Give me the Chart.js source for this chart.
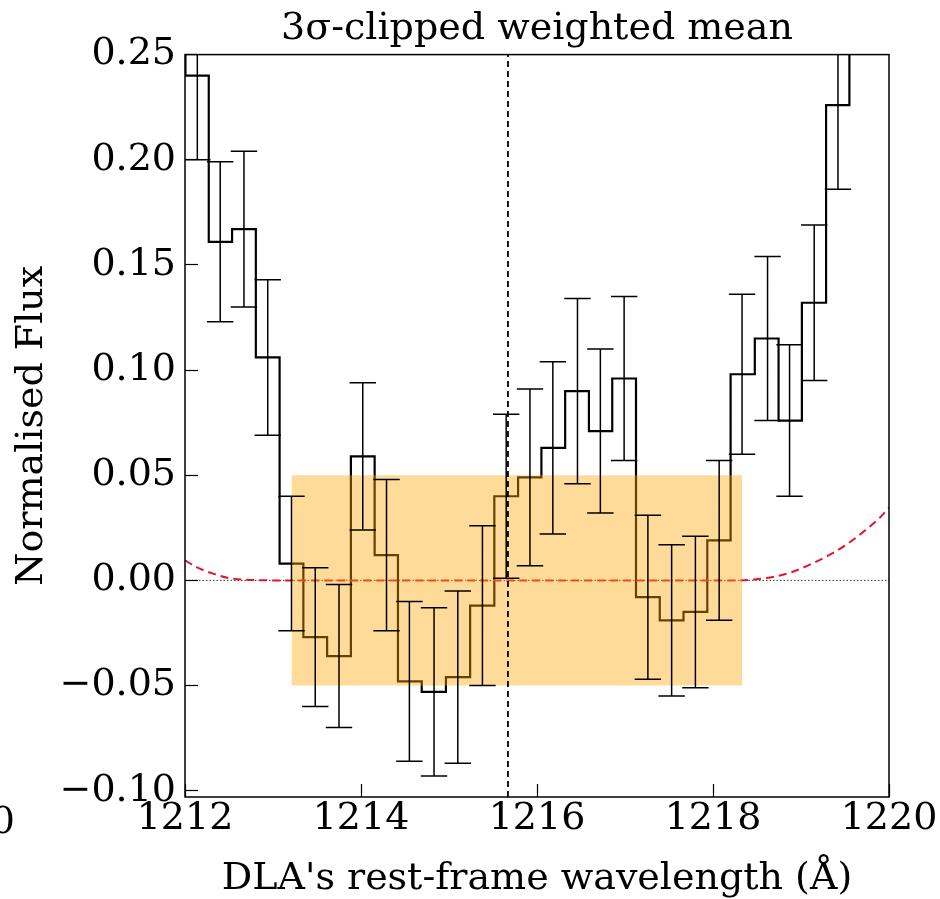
<!DOCTYPE html>
<html>
<head>
<meta charset="utf-8">
<script src="https://cdn.jsdelivr.net/npm/chart.js@4.4.1/dist/chart.umd.min.js"></script>
<style>
  html, body { margin: 0; padding: 0; background: #fff; }
</style>
</head>
<body>
<canvas id="chart" width="940" height="899"></canvas>
<script>
// Binned spectrum: bin centres (Angstrom), flux and 1-sigma error
const binWave = [1211.87, 1212.14, 1212.40, 1212.67, 1212.94, 1213.21, 1213.48, 1213.75, 1214.02, 1214.29,
                 1214.55, 1214.83, 1215.10, 1215.38, 1215.65, 1215.92, 1216.18, 1216.46, 1216.72, 1216.99,
                 1217.26, 1217.53, 1217.80, 1218.07, 1218.33, 1218.62, 1218.87, 1219.15, 1219.42, 1219.68];
const binFlux = [0.300, 0.240, 0.161, 0.167, 0.106, 0.008, -0.027, -0.036, 0.059, 0.012,
                 -0.048, -0.053, -0.046, -0.012, 0.040, 0.049, 0.063, 0.090, 0.071, 0.096,
                 -0.008, -0.019, -0.015, 0.019, 0.098, 0.115, 0.076, 0.132, 0.226, 0.300];
const binErr = [0.040, 0.040, 0.038, 0.037, 0.037, 0.032, 0.033, 0.034, 0.035, 0.036,
                0.038, 0.040, 0.041, 0.038, 0.039, 0.042, 0.041, 0.044, 0.039, 0.039,
                0.039, 0.036, 0.036, 0.038, 0.038, 0.039, 0.036, 0.037, 0.040, 0.040];

// DLA model profile (red dashed)
const modelWave = [1212.00, 1212.13, 1212.32, 1212.51, 1212.75, 1213.00, 1215.67, 1218.30,
                   1218.50, 1218.70, 1218.90, 1219.10, 1219.35, 1219.55, 1219.73, 1219.90, 1220.00];
const modelFlux = [0.0095, 0.0063, 0.0032, 0.0010, 0.0002, 0.0000, 0.0000, 0.0000,
                   0.0006, 0.0018, 0.0040, 0.0075, 0.0127, 0.0180, 0.0238, 0.0300, 0.0346];

// Window used for the clipped mean
const boxWave = [1213.21, 1218.33];
const boxFlux = [-0.05, 0.05];

const lyaWave = 1215.67;
const xRange = [1212, 1220];
const yRange = [-0.103, 0.25];
const capHalf = 0.15; // errorbar cap half-width in Angstrom

const serif = "'DejaVu Serif', 'Liberation Serif', serif";
const fontSize = 38;

// Errorbars as one broken line: stem, top cap, bottom cap
const errPoints = [];
binWave.forEach((x, i) => {
  const lo = binFlux[i] - binErr[i];
  const hi = binFlux[i] + binErr[i];
  errPoints.push({ x: x, y: lo }, { x: x, y: hi }, { x: x, y: null });
  errPoints.push({ x: x - capHalf, y: hi }, { x: x + capHalf, y: hi }, { x: x, y: null });
  errPoints.push({ x: x - capHalf, y: lo }, { x: x + capHalf, y: lo }, { x: x, y: null });
});

// Frame round the plot area + cut-off label of the neighbouring panel
const framePlugin = {
  id: 'frame',
  afterDraw(chart) {
    const { ctx, chartArea } = chart;
    ctx.save();
    ctx.strokeStyle = '#000';
    ctx.lineWidth = 1.5;
    ctx.strokeRect(chartArea.left, chartArea.top, chartArea.right - chartArea.left, chartArea.bottom - chartArea.top);
    ctx.fillStyle = '#000';
    ctx.font = fontSize + 'px ' + serif;
    ctx.textAlign = 'right';
    ctx.textBaseline = 'alphabetic';
    ctx.fillText('1220', 15, 833);
    ctx.restore();
  }
};

const ctx = document.getElementById('chart').getContext('2d');

new Chart(ctx, {
  type: 'line',
  data: {
    datasets: [
      {
        label: 'Lya',
        data: [{ x: lyaWave, y: yRange[0] }, { x: lyaWave, y: yRange[1] }],
        borderColor: '#000',
        borderWidth: 1.8,
        borderDash: [6, 4],
        pointRadius: 0,
        order: 1
      },
      {
        label: 'errors',
        data: errPoints,
        borderColor: '#000',
        borderWidth: 1.5,
        pointRadius: 0,
        spanGaps: false,
        order: 2
      },
      {
        label: 'window',
        data: boxWave.map(x => ({ x: x, y: boxFlux[1] })),
        borderColor: 'rgba(0,0,0,0)',
        borderWidth: 0,
        backgroundColor: 'rgba(255,165,0,0.4)',
        fill: { value: boxFlux[0] },
        pointRadius: 0,
        order: 3
      },
      {
        label: 'model',
        data: modelWave.map((x, i) => ({ x: x, y: modelFlux[i] })),
        borderColor: '#e0162b',
        borderWidth: 2,
        borderDash: [8, 5],
        cubicInterpolationMode: 'monotone',
        pointRadius: 0,
        order: 4
      },
      {
        label: 'flux',
        data: binWave.map((x, i) => ({ x: x, y: binFlux[i] })),
        borderColor: '#000',
        borderWidth: 2.2,
        stepped: 'middle',
        pointRadius: 0,
        order: 5
      },
      {
        label: 'zero',
        data: xRange.map(x => ({ x: x, y: 0 })),
        borderColor: '#000',
        borderWidth: 0.8,
        borderDash: [1.5, 2],
        pointRadius: 0,
        order: 6
      }
    ]
  },
  options: {
    responsive: false,
    animation: false,
    devicePixelRatio: 1,
    layout: { autoPadding: false, padding: { left: 0, right: 51, top: 0, bottom: 0 } },
    plugins: {
      legend: { display: false },
      tooltip: { enabled: false },
      title: {
        display: true,
        fullSize: false,
        text: '3σ-clipped weighted mean',
        color: '#000',
        font: { family: serif, size: fontSize, weight: 'normal' },
        padding: { top: 6, bottom: 3 }
      }
    },
    scales: {
      x: {
        type: 'linear',
        min: xRange[0],
        max: xRange[1],
        border: { display: false },
        grid: { drawOnChartArea: false, drawTicks: true, tickLength: -13, tickWidth: 1.2, tickColor: '#000' },
        ticks: {
          stepSize: 2,
          includeBounds: false,
          padding: 12,
          color: '#000',
          font: { family: serif, size: fontSize },
          maxRotation: 0,
          callback: v => String(v)
        },
        title: {
          display: true,
          text: "DLA's rest-frame wavelength (Å)",
          color: '#000',
          font: { family: serif, size: fontSize },
          padding: { top: 0, bottom: -3 }
        },
        afterFit: scale => {
          scale.height = 102;
          scale.paddingLeft = 0;
          scale.paddingRight = 0;
        }
      },
      y: {
        type: 'linear',
        min: yRange[0],
        max: yRange[1],
        border: { display: false },
        grid: { drawOnChartArea: false, drawTicks: true, tickLength: -13, tickWidth: 1.2, tickColor: '#000' },
        ticks: {
          stepSize: 0.05,
          includeBounds: false,
          padding: 22,
          color: '#000',
          font: { family: serif, size: fontSize },
          callback: v => v.toFixed(2).replace('-', '\u2212')
        },
        title: {
          display: true,
          text: 'Normalised Flux',
          color: '#000',
          font: { family: serif, size: fontSize },
          padding: { top: 9, bottom: 0 }
        },
        afterFit: scale => {
          scale.width = 185;
          scale.paddingTop = 0;
          scale.paddingBottom = 0;
        }
      }
    }
  },
  plugins: [framePlugin]
});
</script>
</body>
</html>
